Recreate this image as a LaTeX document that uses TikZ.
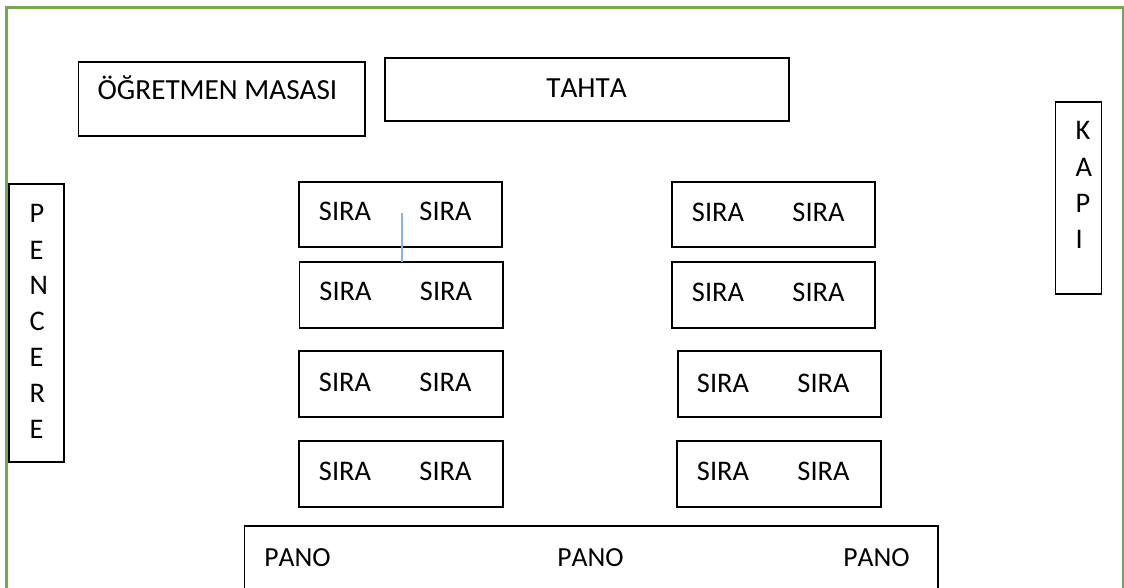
\documentclass[tikz,border=0pt]{standalone}
\usepackage{fontspec}
\setmainfont[Kerning=Off]{Carlito}
\definecolor{framegreen}{HTML}{70AD47}
\definecolor{linkblue}{HTML}{85B5E2}
\tikzset{
  every node/.style={font=\fontsize{28.4}{34}\selectfont,text=black},
  boxnode/.style={draw=black,line width=1.15pt,fill=white,inner sep=0pt,outer sep=0pt,anchor=north west},
  label/.style={inner sep=0pt,anchor=base},
  letter/.style={inner sep=0pt,anchor=base west},
  bigtext/.style={font=\fontsize{29.2}{34}\selectfont},
  panotext/.style={font=\fontsize{27.6}{34}\selectfont},
}
\newcommand{\BX}[5]{\node[boxnode,minimum width=#3pt-#1pt,minimum height=#4pt-#2pt] (#5) at (#1,#2) {};}
\newcommand{\TX}[4]{\node[label] (#4) at (#1,#2) {#3};}
\newcommand{\LT}[4]{\node[letter] (#4) at (#1,#2) {#3};}
\begin{document}
\begin{tikzpicture}[x=1pt,y=-1pt]
\useasboundingbox (0,0) rectangle (1124,588);
\clip (0,0) rectangle (1124,588);
\fill[white] (0,0) rectangle (1124,588);
\draw[framegreen,line width=2.8pt] (6.4,620) -- (6.4,7.4) -- (1123.4,7.4) -- (1123.4,620);
\BX{78.3}{62}{365}{136}{desk}
\BX{385}{58}{789}{121}{board}
\BX{1055.5}{102}{1101.5}{294}{door}
\BX{9}{184}{64}{462}{window}
\BX{299}{182}{502}{247}{a1}
\BX{299.5}{262}{503}{328}{a2}
\BX{299}{351}{503}{417}{a3}
\BX{299}{441}{503}{507}{a4}
\BX{672}{182}{875}{247}{b1}
\BX{672}{262}{875}{328}{b2}
\BX{678}{351}{881}{417}{b3}
\BX{677}{441}{881}{507}{b4}
\BX{244.5}{526}{938}{640}{pano}
\coordinate (linktop) at (402,213);
\draw[linkblue,line width=1.6pt] (linktop) -- (linktop |- a2.north);
\node[label,bigtext] (tdesk) at (217.5,100) {ÖĞRETMEN MASASI};
\node[label,bigtext] (tboard) at (586.5,98) {TAHTA};
\TX{345}{221}{SIRA}{a1l}\TX{445.5}{221}{SIRA}{a1r}
\TX{345.5}{300.5}{SIRA}{a2l}\TX{446}{300.5}{SIRA}{a2r}
\TX{345}{391}{SIRA}{a3l}\TX{445.5}{391}{SIRA}{a3r}
\TX{345}{480}{SIRA}{a4l}\TX{445.5}{480}{SIRA}{a4r}
\TX{718}{222}{SIRA}{b1l}\TX{818.5}{222}{SIRA}{b1r}
\TX{718}{301}{SIRA}{b2l}\TX{818.5}{301}{SIRA}{b2r}
\TX{723}{392}{SIRA}{b3l}\TX{823.5}{392}{SIRA}{b3r}
\TX{723}{480}{SIRA}{b4l}\TX{823.5}{480}{SIRA}{b4r}
\node[label,panotext] (p1) at (297.5,566) {PANO};
\node[label,panotext] (p2) at (590.5,566) {PANO};
\node[label,panotext] (p3) at (876.5,566) {PANO};
\LT{29.5}{222.7}{P}{w1}\LT{29.5}{259}{E}{w2}\LT{29.5}{294}{N}{w3}\LT{29.5}{330}{C}{w4}\LT{29.5}{366}{E}{w5}\LT{29.5}{402}{R}{w6}\LT{29.5}{438}{E}{w7}
\LT{1075.5}{140}{K}{d1}\LT{1075.5}{176.5}{A}{d2}\LT{1075.5}{212}{P}{d3}\LT{1075.5}{248}{I}{d4}
\end{tikzpicture}
\end{document}
